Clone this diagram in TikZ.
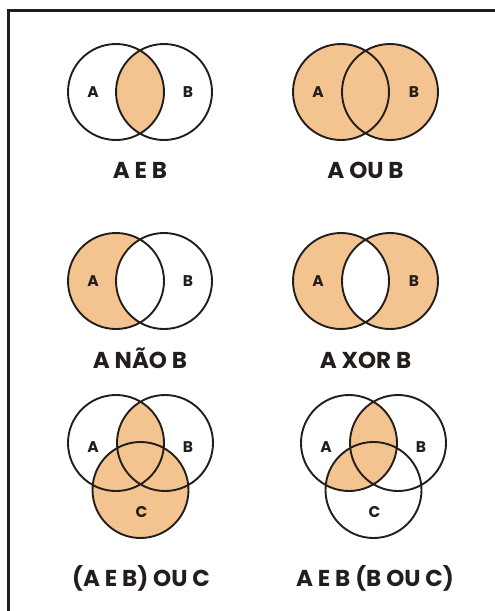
\documentclass[tikz,border=0pt]{standalone}
\usepackage{fontspec}
\setmainfont{Poppins}
\usetikzlibrary{calc}
\definecolor{peach}{RGB}{243,196,143}
\definecolor{ink}{RGB}{35,30,28}
\tikzset{
  ring/.style={draw=ink, line width=1.9pt},
  setname/.style={font=\fontsize{15.5}{15.5}\selectfont\bfseries, text=ink, anchor=base, inner sep=0pt},
  caption/.style={font=\fontsize{23}{23}\selectfont\bfseries, text=ink, anchor=base, inner sep=0pt}
}
\begin{document}
\begin{tikzpicture}[x=1pt, y=-1pt]
\useasboundingbox (0,0) rectangle (495,611);
\draw[line width=3pt, ink] (495,10) -- (8,10) -- (8,611);

\coordinate (a1) at (116,92);  \coordinate (b1) at (164,92);
\coordinate (a2) at (341,92);  \coordinate (b2) at (390,92);
\coordinate (a3) at (116,281); \coordinate (b3) at (164,281);
\coordinate (a4) at (341,281); \coordinate (b4) at (390,281);
\coordinate (a5) at (116,443); \coordinate (b5) at (165,443); \coordinate (c5) at (140.5,490);
\coordinate (a6) at (349,443); \coordinate (b6) at (398,443); \coordinate (c6) at (373.5,490);

\begin{scope}
  \clip (a1) circle[radius=48pt];
  \fill[peach] (b1) circle[radius=48pt];
\end{scope}
\fill[peach] (a2) circle[radius=48pt] (b2) circle[radius=48pt];
\fill[peach] (a3) circle[radius=48pt];
\begin{scope}
  \clip (a3) circle[radius=48pt];
  \fill[white] (b3) circle[radius=48pt];
\end{scope}
\fill[peach, even odd rule] (a4) circle[radius=48pt] (b4) circle[radius=48pt];
\fill[peach] (c5) circle[radius=48pt];
\begin{scope}
  \clip (a5) circle[radius=48pt];
  \fill[peach] (b5) circle[radius=48pt];
\end{scope}
\begin{scope}
  \clip (a6) circle[radius=48pt];
  \fill[peach] (b6) circle[radius=48pt] (c6) circle[radius=48pt];
\end{scope}

\foreach \k in {1,...,4} {
  \draw[ring] (a\k) circle[radius=48pt] (b\k) circle[radius=48pt];
  \node[setname] (na\k) at ($(a\k)+(-23,5.5)$) {A};
  \node[setname] (nb\k) at ($(b\k)+(24,5.5)$) {B};
}
\foreach \k in {5,6} {
  \draw[ring] (a\k) circle[radius=48pt] (b\k) circle[radius=48pt] (c\k) circle[radius=48pt];
  \node[setname] (na\k) at ($(a\k)+(-23,9.5)$) {A};
  \node[setname] (nb\k) at ($(b\k)+(23,9.5)$) {B};
  \node[setname] (nc\k) at ($(c\k)+(1,27.5)$) {C};
}

\node[caption] (and) at (140,178) {A E B};
\node[caption] (or) at (365.5,178) {A OU B};
\node[caption] (not) at (140,368) {A NÃO B};
\node[caption] (xor) at (365.5,368) {A XOR B};
\node[caption] (andorc) at (141,586) {(A E B) OU C};
\node[caption] (andbc) at (375,586) {A E B (B OU C)};
\end{tikzpicture}
\end{document}
